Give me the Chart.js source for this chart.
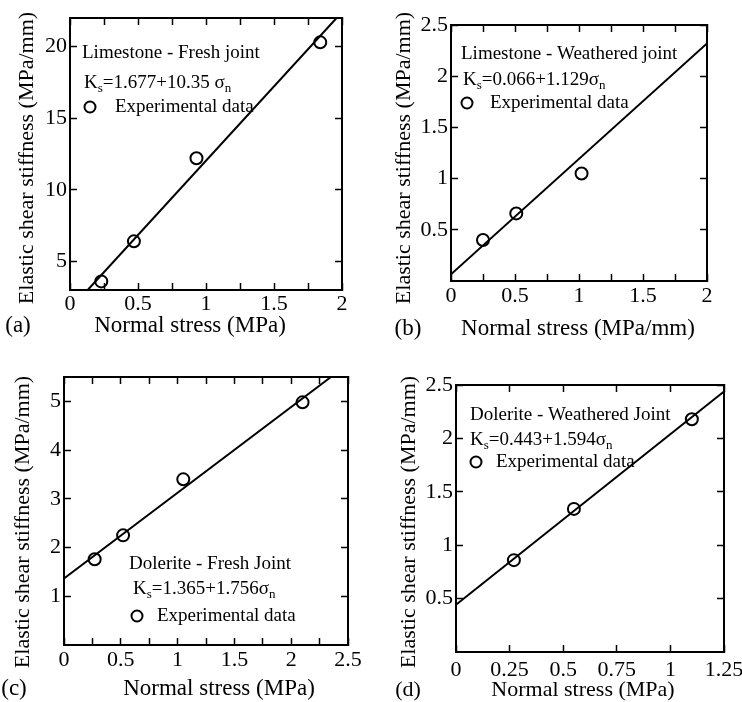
<!DOCTYPE html>
<html>
<head>
<meta charset="utf-8">
<script src="https://cdn.jsdelivr.net/npm/chart.js@4.4.0/dist/chart.umd.min.js"></script>
<style>
  body { margin: 0; background: #fff; }
  #wrap { position: relative; width: 742px; height: 702px; }
  canvas { position: absolute; }
</style>
</head>
<body>
<div id="wrap">
  <canvas id="chartA" width="371" height="350" style="left:0px;top:0px"></canvas>
  <canvas id="chartB" width="371" height="350" style="left:371px;top:0px"></canvas>
  <canvas id="chartC" width="371" height="352" style="left:0px;top:350px"></canvas>
  <canvas id="chartD" width="371" height="352" style="left:371px;top:350px"></canvas>
</div>
<script>
// (a) Limestone - fresh joint
const a_stress = [0.23, 0.47, 0.93, 1.84];
const a_stiffness = [3.6, 6.4, 12.2, 20.3];
const a_fitStress = [0.13, 1.96];
const a_fitStiffness = [3.0, 22.0];
const a_xTicks = ['0', '0.5', '1', '1.5', '2'];
const a_yTicks = ['5', '10', '15', '20'];

// (b) Limestone - weathered joint
const b_stress = [0.25, 0.51, 1.02];
const b_stiffness = [0.40, 0.66, 1.05];
const b_fitStress = [0, 2];
const b_fitStiffness = [0.066, 2.32];
const b_xTicks = ['0', '0.5', '1', '1.5', '2'];
const b_yTicks = ['0.5', '1', '1.5', '2', '2.5'];

// (c) Dolerite - fresh joint
const c_stress = [0.27, 0.52, 1.05, 2.10];
const c_stiffness = [1.76, 2.25, 3.40, 4.98];
const c_fitStress = [0, 2.35];
const c_fitStiffness = [1.365, 5.5];
const c_xTicks = ['0', '0.5', '1', '1.5', '2', '2.5'];
const c_yTicks = ['1', '2', '3', '4', '5'];

// (d) Dolerite - weathered joint
const d_stress = [0.27, 0.55, 1.10];
const d_stiffness = [0.86, 1.34, 2.18];
const d_fitStress = [0, 1.25];
const d_fitStiffness = [0.443, 2.44];
const d_xTicks = ['0', '0.25', '0.5', '0.75', '1', '1.25'];
const d_yTicks = ['0.5', '1', '1.5', '2', '2.5'];

const FONT = "'Liberation Serif', 'Times New Roman', serif";

function toPoints(xs, ys) {
    return xs.map((x, i) => ({ x: x, y: ys[i] }));
}

// only show a label where it is in the tick label list
function labelFrom(list) {
    return function (value) {
        for (var i = 0; i < list.length; i++) {
            if (Math.abs(Number(list[i]) - value) < 1e-6) return list[i];
        }
        return '';
    };
}

// draws a text made of normal and subscript parts
function drawRich(ctx, parts, x, y, size) {
    for (var i = 0; i < parts.length; i++) {
        const sub = parts[i][1];
        const fs = sub ? Math.round(size * 0.68) : size;
        ctx.font = fs + 'px ' + FONT;
        ctx.fillText(parts[i][0], x, sub ? y + size * 0.28 : y);
        x += ctx.measureText(parts[i][0]).width;
    }
}

const panelText = {
    id: 'panelText',
    afterDraw(chart) {
        const t = chart.options.plugins.panelText;
        const ctx = chart.ctx;
        ctx.save();
        ctx.fillStyle = '#000';
        ctx.strokeStyle = '#000';
        ctx.textBaseline = 'middle';

        // y axis title
        ctx.save();
        ctx.translate(t.yTitle[1], t.yTitle[2]);
        ctx.rotate(-Math.PI / 2);
        ctx.textAlign = 'center';
        ctx.font = t.yTitleSize + 'px ' + FONT;
        ctx.fillText(t.yTitle[0], 0, 0);
        ctx.restore();

        // x axis title and panel tag
        ctx.textAlign = 'center';
        ctx.font = t.titleSize + 'px ' + FONT;
        ctx.fillText(t.xTitle[0], t.xTitle[1], t.xTitle[2]);
        ctx.fillText(t.tag[0], t.tag[1], t.tag[2]);

        // legend box inside the plot
        ctx.textAlign = 'left';
        const s = t.legendSize;
        ctx.font = s + 'px ' + FONT;
        ctx.fillText(t.name[0], t.name[1], t.name[2]);
        drawRich(ctx, t.eq[0], t.eq[1], t.eq[2], s);
        ctx.lineWidth = 2;
        ctx.beginPath();
        ctx.arc(t.mark[0], t.mark[1], 5.5, 0, 2 * Math.PI);
        ctx.stroke();
        ctx.font = s + 'px ' + FONT;
        ctx.fillText('Experimental data', t.mark[2], t.mark[1]);
        ctx.restore();
    }
};

function axisGrid() {
    return { drawOnChartArea: false, drawTicks: true, tickLength: -7, tickWidth: 1.5, tickColor: '#000' };
}

function drawPanel(id, p) {
    const canvas = document.getElementById(id);
    const W = canvas.width, H = canvas.height;
    const tickFont = { family: FONT, size: p.tickSize };
    const yValues = p.yTicks.map(Number);
    const setYTicks = function (s) { s.ticks = yValues.map(v => ({ value: v })); };

    new Chart(canvas, {
        type: 'scatter',
        data: {
            datasets: [{
                label: 'Experimental data',
                data: toPoints(p.xs, p.ys),
                showLine: false,
                pointStyle: 'circle',
                pointRadius: 6,
                pointBorderWidth: 2,
                borderColor: '#000',
                backgroundColor: 'rgba(0,0,0,0)'
            }, {
                label: 'Fit',
                data: toPoints(p.fitX, p.fitY),
                showLine: true,
                pointRadius: 0,
                borderColor: '#000',
                borderWidth: 2
            }]
        },
        options: {
            responsive: false,
            animation: false,
            layout: { padding: { left: 0, top: p.area[1], right: W - p.area[2], bottom: 0 } },
            plugins: { legend: { display: false }, tooltip: { enabled: false }, panelText: p.text },
            scales: {
                x: {
                    type: 'linear', position: 'bottom', bounds: 'data',
                    min: p.xMin, max: p.xMax,
                    ticks: { stepSize: p.xStep, autoSkip: false, maxRotation: 0, includeBounds: false,
                        padding: p.xPad, font: tickFont, color: '#000', callback: labelFrom(p.xTicks) },
                    grid: axisGrid(),
                    border: { color: '#000', width: 2 },
                    afterFit: function (s) { s.height = H - p.area[3]; s.paddingLeft = 0; s.paddingRight = 0; }
                },
                y: {
                    type: 'linear', position: 'left', bounds: 'data',
                    min: p.yMin, max: p.yMax,
                    afterBuildTicks: setYTicks,
                    ticks: { autoSkip: false, padding: 10, font: tickFont, color: '#000', callback: labelFrom(p.yTicks) },
                    grid: axisGrid(),
                    border: { color: '#000', width: 2 },
                    afterFit: function (s) { s.width = p.area[0]; s.paddingTop = 0; s.paddingBottom = 0; }
                },
                x2: {
                    type: 'linear', position: 'top', bounds: 'data',
                    min: p.xMin, max: p.xMax,
                    ticks: { display: false, stepSize: p.xStep, includeBounds: false },
                    grid: axisGrid(),
                    border: { color: '#000', width: 2 },
                    afterFit: function (s) { s.height = 0; s.paddingLeft = 0; s.paddingRight = 0; }
                },
                y2: {
                    type: 'linear', position: 'right', bounds: 'data',
                    min: p.yMin, max: p.yMax,
                    afterBuildTicks: setYTicks,
                    ticks: { display: false },
                    grid: axisGrid(),
                    border: { color: '#000', width: 2 },
                    afterFit: function (s) { s.width = 0; s.paddingTop = 0; s.paddingBottom = 0; }
                }
            }
        },
        plugins: [panelText]
    });
}

const yTitle = 'Elastic shear stiffness (MPa/mm)';

drawPanel('chartA', {
    xs: a_stress, ys: a_stiffness, fitX: a_fitStress, fitY: a_fitStiffness,
    xTicks: a_xTicks, yTicks: a_yTicks,
    xMin: 0, xMax: 2, xStep: 0.25, yMin: 3, yMax: 22,
    area: [70, 18, 342, 290], xPad: 8, tickSize: 22,
    text: {
        titleSize: 23, yTitleSize: 22, legendSize: 19,
        yTitle: [yTitle, 27, 158],
        xTitle: ['Normal stress (MPa)', 190, 326],
        tag: ['(a)', 18, 326],
        name: ['Limestone - Fresh joint', 82, 53],
        eq: [[['K'], ['s', 1], ['=1.677+10.35 σ'], ['n', 1]], 84, 83],
        mark: [90, 107, 115]
    }
});

drawPanel('chartB', {
    xs: b_stress, ys: b_stiffness, fitX: b_fitStress, fitY: b_fitStiffness,
    xTicks: b_xTicks, yTicks: b_yTicks,
    xMin: 0, xMax: 2, xStep: 0.25, yMin: 0, yMax: 2.5,
    area: [80, 25, 336, 281], xPad: 9, tickSize: 22,
    text: {
        titleSize: 23, yTitleSize: 22, legendSize: 19,
        yTitle: [yTitle, 33, 158],
        xTitle: ['Normal stress (MPa/mm)', 207, 329],
        tag: ['(b)', 37, 329],
        name: ['Limestone - Weathered joint', 90, 54],
        eq: [[['K'], ['s', 1], ['=0.066+1.129σ'], ['n', 1]], 92, 80],
        mark: [96, 103, 119]
    }
});

drawPanel('chartC', {
    xs: c_stress, ys: c_stiffness, fitX: c_fitStress, fitY: c_fitStiffness,
    xTicks: c_xTicks, yTicks: c_yTicks,
    xMin: 0, xMax: 2.5, xStep: 0.25, yMin: 0, yMax: 5.5,
    area: [64, 27, 348, 295], xPad: 9, tickSize: 22,
    text: {
        titleSize: 23, yTitleSize: 22, legendSize: 19,
        yTitle: [yTitle, 23, 172],
        xTitle: ['Normal stress (MPa)', 219, 339],
        tag: ['(c)', 14, 339],
        name: ['Dolerite - Fresh Joint', 129, 214],
        eq: [[['K'], ['s', 1], ['=1.365+1.756σ'], ['n', 1]], 133, 239],
        mark: [137, 266, 157]
    }
});

drawPanel('chartD', {
    xs: d_stress, ys: d_stiffness, fitX: d_fitStress, fitY: d_fitStiffness,
    xTicks: d_xTicks, yTicks: d_yTicks,
    xMin: 0, xMax: 1.25, xStep: 0.25, yMin: 0, yMax: 2.5,
    area: [85, 35, 353, 302], xPad: 12, tickSize: 22,
    text: {
        titleSize: 22, yTitleSize: 22, legendSize: 19,
        yTitle: [yTitle, 38, 172],
        xTitle: ['Normal stress (MPa)', 212, 340],
        tag: ['(d)', 37, 340],
        name: ['Dolerite - Weathered Joint', 99, 65],
        eq: [[['K'], ['s', 1], ['=0.443+1.594σ'], ['n', 1]], 99, 90],
        mark: [105, 112, 125]
    }
});
</script>
</body>
</html>
